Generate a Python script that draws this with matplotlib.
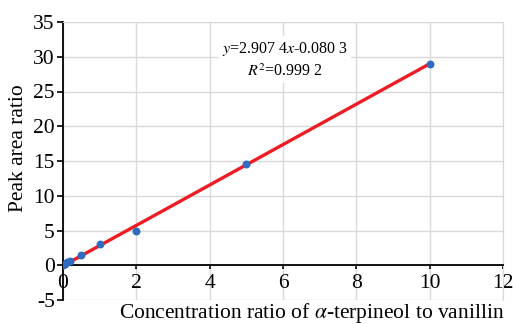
import matplotlib
matplotlib.use('Agg')
import matplotlib.pyplot as plt
import numpy as np

plt.rcParams['font.family'] = ['Liberation Serif', 'DejaVu Serif']
plt.rcParams['mathtext.fontset'] = 'stix'
plt.rcParams['axes.unicode_minus'] = False

# measured points
conc_ratio = [0.0, 0.05, 0.1, 0.2, 0.5, 1.0, 2.0, 5.0, 10.0]
peak_ratio = [0.05, 0.25, 0.45, 0.6, 1.5, 3.0, 5.0, 14.6, 29.0]
slope, intercept = 2.9074, -0.0803
x_ticks = [0, 2, 4, 6, 8, 10, 12]
y_ticks = [-5, 0, 5, 10, 15, 20, 25, 30, 35]

fig = plt.figure(figsize=(5.13, 3.24), dpi=100)
ax = fig.add_axes([63 / 513, 24 / 324, 440 / 513, 278 / 324])

fit_x = np.array([0, 10])
ax.plot(fit_x, slope * fit_x + intercept, color='#ee1c23', linewidth=2.4, zorder=3)
ax.scatter(conc_ratio, peak_ratio, s=22, color='#2f6bbf', zorder=4)

ax.set_xlim(0, 12)
ax.set_ylim(-5, 35)
ax.set_xticks(x_ticks)
ax.set_yticks(y_ticks)
ax.grid(True, color='#d9d9d9', linewidth=1)
ax.set_axisbelow(True)

ax.spines['bottom'].set_position(('data', 0))
ax.spines['bottom'].set_linewidth(1.3)
ax.spines['left'].set_linewidth(1.3)
for s in ['top', 'right']:
    ax.spines[s].set_color('#d9d9d9')
ax.tick_params(axis='x', length=3, width=1.2, labelsize=15.5, pad=3)
ax.tick_params(axis='y', length=4, width=1.2, labelsize=15.5, pad=2)

ax.set_ylabel('Peak area ratio', fontsize=15.5, labelpad=2)
ax.yaxis.set_label_coords((28 - 63) / 440, (300 - 148) / 278)
fig.text(312 / 513, 11 / 324, r'Concentration ratio of $\it{\alpha}$-terpineol to vanillin',
         ha='center', va='center', fontsize=15.5)

ax.text((285 - 63) / 440, (300 - 60) / 278,
        '$y$=2.907 4$x$-0.080 3\n$R^2$=0.999 2', transform=ax.transAxes,
        ha='center', va='center', fontsize=11.5, linespacing=1.5,
        bbox=dict(facecolor='white', edgecolor='none', pad=2))

fig.savefig('out.png', dpi=100)
